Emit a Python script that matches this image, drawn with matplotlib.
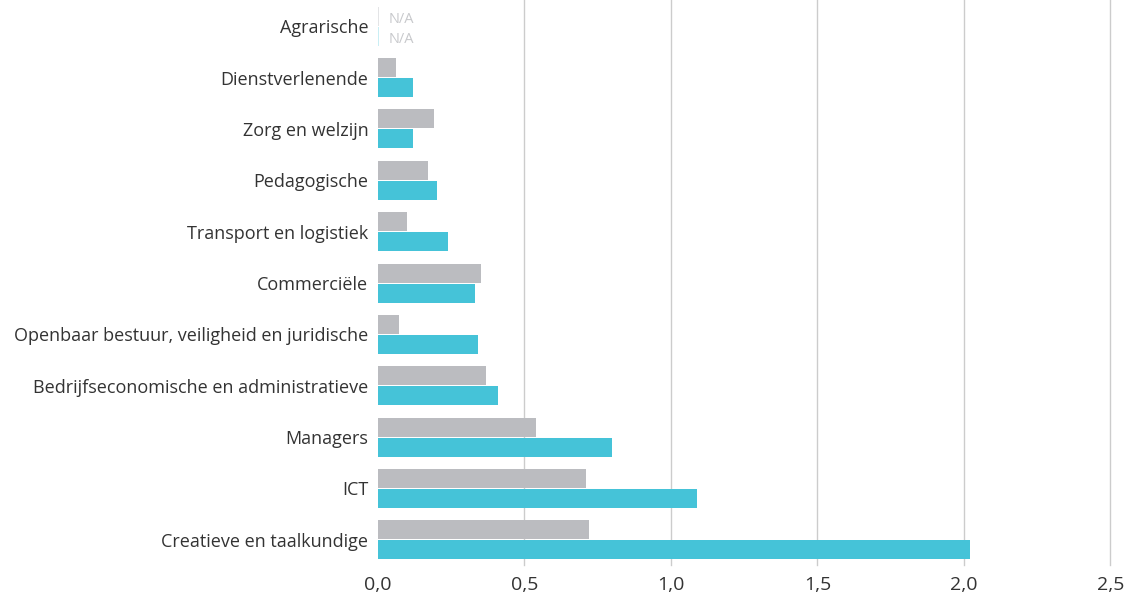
import matplotlib.pyplot as plt
import numpy as np

categories = ['Agrarische', 'Dienstverlenende', 'Zorg en welzijn', 'Pedagogische',
              'Transport en logistiek', 'Commerciële',
              'Openbaar bestuur, veiligheid en juridische',
              'Bedrijfseconomische en administratieve', 'Managers', 'ICT',
              'Creatieve en taalkundige']
grey_values = [None, 0.06, 0.19, 0.17, 0.10, 0.35, 0.07, 0.37, 0.54, 0.71, 0.72]
teal_values = [None, 0.12, 0.12, 0.20, 0.24, 0.33, 0.34, 0.41, 0.80, 1.09, 2.02]
x_ticks = [0.0, 0.5, 1.0, 1.5, 2.0, 2.5]
x_tick_labels = ['0,0', '0,5', '1,0', '1,5', '2,0', '2,5']

grey = '#bbbcc0'
teal = '#45c3d8'

plt.rcParams['font.family'] = ['Open Sans', 'DejaVu Sans']

fig = plt.figure(figsize=(11.27, 5.94), dpi=100)
ax = fig.add_axes([0.3354, 0.0488, 0.6499, 0.9512])

y = np.arange(len(categories))
bh = 0.37
for i in range(len(categories)):
    g = grey_values[i]
    t = teal_values[i]
    if g is None:
        ax.bar(0, bh, width=0.002, bottom=y[i] - bh - 0.01, color='#e3e4e6',
               align='edge', zorder=3)
        ax.text(0.035, y[i] - bh / 2 + 0.06, 'N/A', va='center', ha='left',
                fontsize=10.5, color='#c8c9cc')
    else:
        ax.barh(y[i] - bh / 2 - 0.01, g, height=bh, color=grey, zorder=3)
    if t is None:
        ax.bar(0, bh, width=0.002, bottom=y[i] + 0.01, color='#c9eef4',
               align='edge', zorder=3)
        ax.text(0.035, y[i] + bh / 2 + 0.08, 'N/A', va='center', ha='left',
                fontsize=10.5, color='#c8c9cc')
    else:
        ax.barh(y[i] + bh / 2 + 0.01, t, height=bh, color=teal, zorder=3)

ax.set_xlim(0, 2.5)
ax.set_ylim(10.49, -0.51)
ax.set_xticks(x_ticks)
ax.set_xticklabels(x_tick_labels, fontsize=14, color='#333333')
ax.set_yticks(y)
ax.set_yticklabels(categories, fontsize=13, color='#333333')
ax.tick_params(axis='both', length=0)
ax.tick_params(axis='x', pad=8)
ax.tick_params(axis='y', pad=7)
for s in ax.spines.values():
    s.set_visible(False)
ax.grid(axis='x', color='#cccccc', linewidth=1, zorder=0)
ax.yaxis.grid(False)
for line in ax.get_xgridlines():
    line.set_clip_on(False)
# no gridline at zero
ax.get_xgridlines()[0].set_visible(False)

plt.savefig('out.png', dpi=100)
